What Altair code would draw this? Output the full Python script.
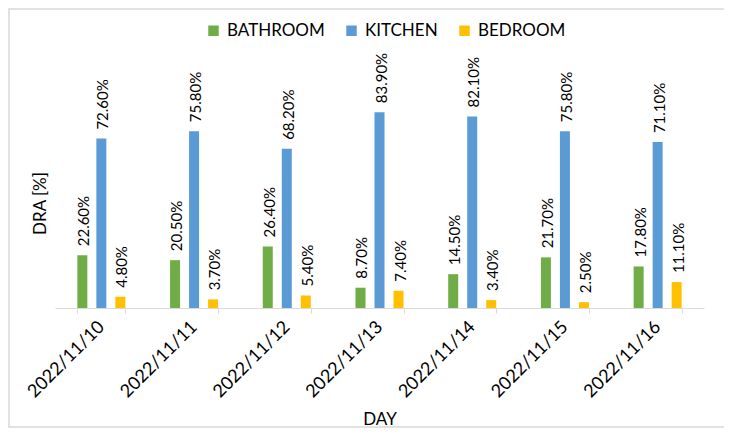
import altair as alt
import pandas as pd

days = ["2022/11/10", "2022/11/11", "2022/11/12", "2022/11/13",
        "2022/11/14", "2022/11/15", "2022/11/16"]
rooms = ["BATHROOM", "KITCHEN", "BEDROOM"]
bathroom = [22.6, 20.5, 26.4, 8.7, 14.5, 21.7, 17.8]
kitchen = [72.6, 75.8, 68.2, 83.9, 82.1, 75.8, 71.1]
bedroom = [4.8, 3.7, 5.4, 7.4, 3.4, 2.5, 11.1]
colors = ["#70AD47", "#5B9BD5", "#FFC000"]

rows = []
for i, d in enumerate(days):
    for r, vals in zip(rooms, [bathroom, kitchen, bedroom]):
        rows.append({"day": d, "room": r, "dra": vals[i], "label": f"{vals[i]:.2f}%"})
df = pd.DataFrame(rows)

FONT = "Lato"

x = alt.X("day:N", title="DAY", sort=days,
          scale=alt.Scale(paddingInner=0.482, paddingOuter=0.241),
          axis=alt.Axis(labelAngle=315, labelAlign="right", labelBaseline="middle",
                        labelPadding=11, labelFontSize=18, labelColor="#000000",
                        labelFont=FONT, tickBand="extent", tickColor="#D9D9D9",
                        tickSize=5, domainColor="#D9D9D9", titleFontSize=17,
                        titleFontWeight="normal", titlePadding=11,
                        titleColor="#000000", titleFont=FONT))
xo = alt.XOffset("room:N", sort=rooms,
                 scale=alt.Scale(domain=rooms, paddingInner=0.474, paddingOuter=0))
y = alt.Y("dra:Q", title="DRA [%]",
          scale=alt.Scale(domain=[0, 90], nice=False, zero=True),
          axis=alt.Axis(labels=False, ticks=False, domain=False, grid=False,
                        titleFontSize=17, titleFontWeight="normal",
                        titleColor="#000000", titlePadding=6, titleFont=FONT))
color = alt.Color("room:N", sort=rooms,
                  scale=alt.Scale(domain=rooms, range=colors),
                  legend=alt.Legend(title=None, orient="none", direction="horizontal",
                                    legendX=150, legendY=-76, symbolType="square",
                                    symbolSize=110, labelFontSize=17, labelFont=FONT,
                                    labelColor="#000000", columnPadding=18,
                                    labelOffset=5, symbolStrokeWidth=0))

base = alt.Chart(df)
bars = base.mark_bar().encode(x=x, xOffset=xo, y=y, color=color)
labels = base.mark_text(angle=270, align="left", baseline="middle", dx=9, dy=2,
                        fontSize=15, font=FONT, color="#000000").encode(
    x=x, xOffset=xo, y=y, text="label:N")

frame = alt.Chart(pd.DataFrame({"a": [0]})).mark_rect(
    fill="transparent", stroke="#D9D9D9", strokeWidth=1.5).encode(
    x=alt.value(-46), x2=alt.value(670), y=alt.value(-89), y2=alt.value(329))

chart = alt.layer(frame, bars, labels).properties(
    width=649, height=210,
    padding={"left": 47, "top": 90, "right": 20, "bottom": 120},
    autosize=alt.AutoSizeParams(type="none"),
).configure_view(stroke=None)

chart.save("out.html", embed_options={"renderer": "svg", "actions": False})
